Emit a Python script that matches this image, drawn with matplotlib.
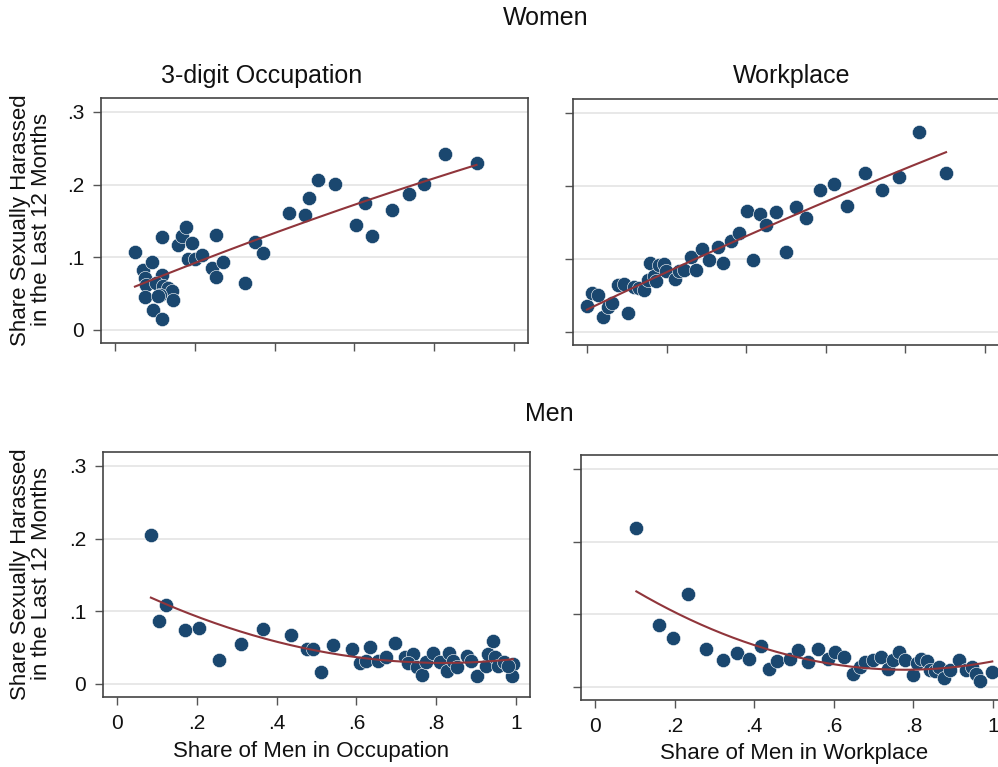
import numpy as np
import matplotlib
matplotlib.use("Agg")
import matplotlib.pyplot as plt

plt.rcParams["font.family"] = ["Liberation Sans", "DejaVu Sans"]

# binned scatter: share harassed vs share of men
women_occ_x = [0.050, 0.071, 0.075, 0.079, 0.092, 0.075, 0.096, 0.118, 0.117, 0.117,
               0.104, 0.121, 0.133, 0.142, 0.113, 0.108, 0.146, 0.158, 0.167, 0.179,
               0.192, 0.184, 0.200, 0.217, 0.254, 0.242, 0.254, 0.271, 0.326, 0.351,
               0.371, 0.437, 0.476, 0.487, 0.509, 0.551, 0.605, 0.627, 0.644, 0.693,
               0.737, 0.774, 0.826, 0.906]
women_occ_y = [0.1066, 0.083, 0.071, 0.062, 0.094, 0.045, 0.0276, 0.0147, 0.128, 0.076,
               0.064, 0.060, 0.0575, 0.053, 0.048, 0.046, 0.041, 0.117, 0.129, 0.142,
               0.1195, 0.0975, 0.0975, 0.1035, 0.131, 0.085, 0.0727, 0.093, 0.064, 0.121,
               0.106, 0.161, 0.158, 0.182, 0.206, 0.201, 0.144, 0.175, 0.129, 0.1645,
               0.187, 0.201, 0.242, 0.230]

women_wp_x = [0.000, 0.0125, 0.0275, 0.040, 0.053, 0.063, 0.078, 0.092, 0.104, 0.119,
              0.132, 0.144, 0.159, 0.153, 0.169, 0.174, 0.182, 0.194, 0.199, 0.221,
              0.232, 0.245, 0.261, 0.275, 0.290, 0.307, 0.328, 0.343, 0.361, 0.381,
              0.401, 0.418, 0.435, 0.449, 0.476, 0.499, 0.524, 0.549, 0.585, 0.620,
              0.654, 0.698, 0.741, 0.785, 0.833, 0.902]
women_wp_y = [0.0355, 0.053, 0.050, 0.020, 0.0346, 0.039, 0.0646, 0.0655, 0.0254, 0.061,
              0.060, 0.0577, 0.0946, 0.0715, 0.076, 0.070, 0.092, 0.093, 0.083, 0.0725,
              0.083, 0.085, 0.103, 0.085, 0.1135, 0.099, 0.116, 0.095, 0.1246, 0.135,
              0.166, 0.098, 0.162, 0.147, 0.164, 0.110, 0.171, 0.156, 0.194, 0.203,
              0.173, 0.217, 0.194, 0.212, 0.274, 0.217]

men_occ_x = [0.085, 0.123, 0.106, 0.171, 0.206, 0.255, 0.311, 0.365, 0.436, 0.477,
             0.492, 0.511, 0.541, 0.590, 0.608, 0.624, 0.633, 0.655, 0.674, 0.697,
             0.722, 0.741, 0.730, 0.751, 0.764, 0.775, 0.791, 0.810, 0.826, 0.833,
             0.841, 0.853, 0.876, 0.886, 0.902, 0.925, 0.931, 0.943, 0.947, 0.956,
             0.970, 0.992, 0.989, 0.981]
men_occ_y = [0.205, 0.109, 0.086, 0.0744, 0.0767, 0.0335, 0.055, 0.0758, 0.0675, 0.048,
             0.048, 0.017, 0.053, 0.048, 0.0285, 0.032, 0.0505, 0.032, 0.0377, 0.056,
             0.0377, 0.041, 0.0285, 0.023, 0.0129, 0.030, 0.042, 0.030, 0.0184, 0.042,
             0.032, 0.023, 0.039, 0.032, 0.0115, 0.025, 0.041, 0.059, 0.0377, 0.024,
             0.030, 0.0276, 0.0115, 0.024]

men_wp_x = [0.104, 0.233, 0.160, 0.196, 0.280, 0.321, 0.357, 0.388, 0.417, 0.438,
            0.457, 0.490, 0.511, 0.534, 0.561, 0.585, 0.604, 0.626, 0.647, 0.666,
            0.678, 0.699, 0.718, 0.737, 0.749, 0.764, 0.779, 0.800, 0.808, 0.820,
            0.833, 0.841, 0.854, 0.865, 0.876, 0.891, 0.915, 0.933, 0.946, 0.957,
            0.968, 0.998]
men_wp_y = [0.2186, 0.128, 0.085, 0.0676, 0.0515, 0.0377, 0.046, 0.038, 0.056, 0.0253,
            0.0354, 0.038, 0.0506, 0.0336, 0.0515, 0.039, 0.048, 0.0405, 0.0184, 0.0276,
            0.0345, 0.0368, 0.0414, 0.024, 0.0368, 0.0474, 0.0368, 0.0161, 0.033, 0.039,
            0.0359, 0.023, 0.022, 0.0276, 0.0129, 0.023, 0.0368, 0.023, 0.0276, 0.0184,
            0.0083, 0.0207]

x_ticks = [0, 0.2, 0.4, 0.6, 0.8, 1.0]
x_tick_labels = ["0", ".2", ".4", ".6", ".8", "1"]
y_ticks = [0, 0.1, 0.2, 0.3]
y_tick_labels = ["0", ".1", ".2", ".3"]

NAVY = "#1a476f"
MAROON = "#90353b"
FRAME = "#444444"

W, H = 998, 767
fig = plt.figure(figsize=(W / 100, H / 100), dpi=100)
fig.patch.set_facecolor("white")


def add_panel(left, top, right, bottom):
    # pixel box -> figure fractions
    return fig.add_axes([left / W, 1 - bottom / H, (right - left) / W, (bottom - top) / H])


def draw_panel(ax, xs, ys, show_x, show_y):
    xs = np.asarray(xs)
    ys = np.asarray(ys)
    ax.scatter(xs, ys, s=105, color=NAVY, edgecolors="white", linewidths=0.4, zorder=3)
    # quadratic fit line
    coef = np.polyfit(xs, ys, 2)
    grid = np.linspace(xs.min(), xs.max(), 200)
    ax.plot(grid, np.polyval(coef, grid), color=MAROON, lw=1.5, zorder=4)

    ax.set_xlim(-0.035, 1.035)
    ax.set_ylim(-0.018, 0.319)
    ax.set_xticks(x_ticks)
    ax.set_yticks(y_ticks)
    ax.set_xticklabels(x_tick_labels if show_x else [])
    ax.set_yticklabels(y_tick_labels if show_y else [])
    ax.grid(axis="y", color="#e6e6e6", lw=1.3, zorder=0)
    ax.grid(axis="x", visible=False)
    for sp in ax.spines.values():
        sp.set_color(FRAME)
        sp.set_linewidth(1.2)
    ax.tick_params(direction="out", length=6, width=1, color="#555555",
                   labelsize=15, labelcolor="#111111", pad=6)


ax1 = add_panel(101, 98, 528, 343)
ax2 = add_panel(573, 99, 999, 345)
ax3 = add_panel(103, 452, 530, 697)
ax4 = add_panel(581, 455, 1007, 700)

draw_panel(ax1, women_occ_x, women_occ_y, False, True)
draw_panel(ax2, women_wp_x, women_wp_y, False, False)
draw_panel(ax3, men_occ_x, men_occ_y, True, True)
draw_panel(ax4, men_wp_x, men_wp_y, True, False)


def fig_text(x, y, s, size=16, **kw):
    fig.text(x / W, 1 - y / H, s, ha="center", va="center", fontsize=size,
             color="#111111", **kw)


fig_text(546, 18, "Women", size=18)
fig_text(549, 414, "Men", size=18)
fig_text(262, 76, "3-digit Occupation", size=18)
fig_text(792, 76, "Workplace", size=18)
fig_text(311, 752, "Share of Men in Occupation")
fig_text(794, 753, "Share of Men in Workplace")

ylab = "Share Sexually Harassed\nin the Last 12 Months"
fig_text(31, 220, ylab, rotation=90, linespacing=1.05)
fig_text(31, 574, ylab, rotation=90, linespacing=1.05)

fig.savefig("out.png", dpi=100, facecolor="white")
